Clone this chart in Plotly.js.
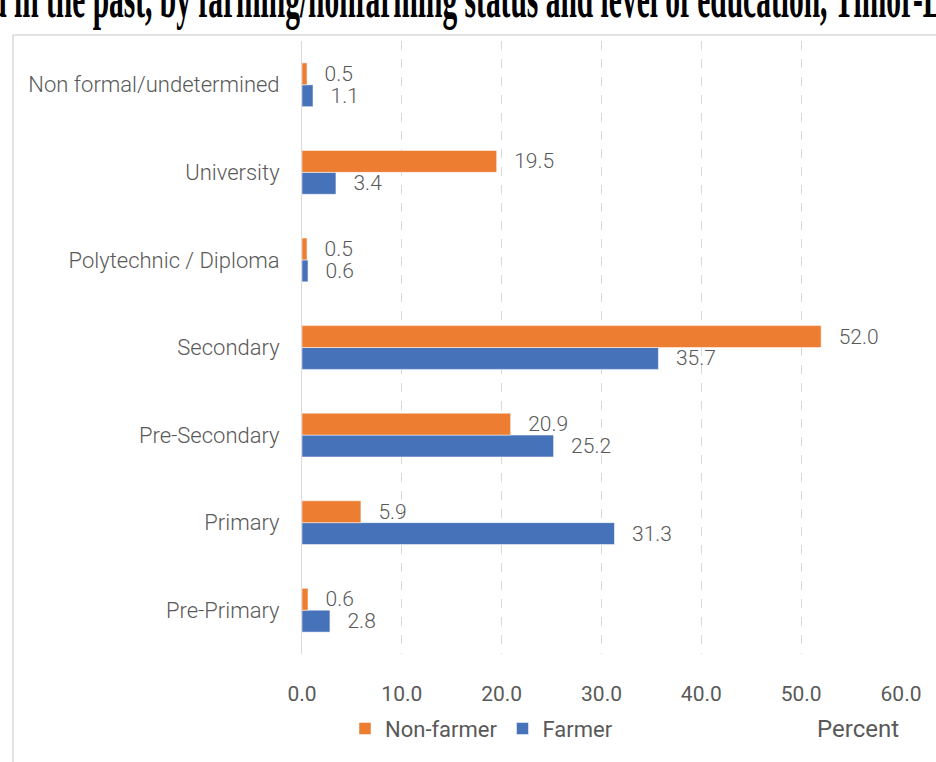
<!DOCTYPE html>
<html>
<head>
<meta charset="utf-8">
<script src="https://cdn.plot.ly/plotly-3.0.1.min.js"></script>
<style>html,body{margin:0;padding:0;background:#fff;}#chart{width:936px;height:762px;}</style>
</head>
<body>
<div id="chart"></div>
<script>
const categories = ["Pre-Primary", "Primary", "Pre-Secondary", "Secondary", "Polytechnic / Diploma", "University", "Non formal/undetermined"];
const farmer = [2.8, 31.3, 25.2, 35.7, 0.6, 3.4, 1.1];
const nonFarmer = [0.6, 5.9, 20.9, 52.0, 0.5, 19.5, 0.5];
const xTicks = [0, 10, 20, 30, 40, 50, 60];
const xTickLabels = ["0.0", "10.0", "20.0", "30.0", "40.0", "50.0", "60.0"];
const titleText = "worked in the past, by farming/nonfarming status and level of education, Timor-Leste";

const pad = "\u00a0\u00a0\u2009";
const labelFont = {family: "Roboto, 'Liberation Sans', sans-serif", size: 21, color: "#595959", weight: 300};

const traces = [
  {
    type: "bar", orientation: "h", name: "Farmer",
    y: categories, x: farmer,
    marker: {color: "#4672b9", line: {color: "#ffffff", width: 0.5}},
    text: farmer.map(v => pad + v.toFixed(1)),
    textposition: "outside", textfont: labelFont, constraintext: "none", cliponaxis: false,
    hoverinfo: "x+name"
  },
  {
    type: "bar", orientation: "h", name: "Non-farmer",
    y: categories, x: nonFarmer,
    marker: {color: "#ed7d31", line: {color: "#ffffff", width: 0.5}},
    text: nonFarmer.map(v => pad + v.toFixed(1)),
    textposition: "outside", textfont: labelFont, constraintext: "none", cliponaxis: false,
    hoverinfo: "x+name"
  }
];

const W = 936, H = 762, L = 302, R = 35, T = 41, B = 106;
const pw = W - L - R, ph = H - T - B;
const px = p => (p - L) / pw;
const py = p => (H - B - p) / ph;

const layout = {
  width: W, height: H,
  margin: {l: L, r: R, t: T, b: B, pad: 0},
  paper_bgcolor: "#ffffff", plot_bgcolor: "#ffffff",
  barmode: "group", bargap: 0.5, bargroupgap: 0,
  font: {family: "Roboto, 'Liberation Sans', sans-serif", color: "#595959"},
  xaxis: {
    range: [0, 60], tickvals: xTicks, ticktext: xTickLabels,
    showgrid: true, gridcolor: "#d9d9d9", griddash: "dash", gridwidth: 1,
    zeroline: false, showline: false,
    ticks: "outside", ticklen: 21, tickcolor: "rgba(0,0,0,0)",
    tickfont: {family: "'Liberation Sans Narrow', Roboto, sans-serif", size: 21, color: "#595959"},
    fixedrange: true
  },
  yaxis: {
    type: "category", categoryorder: "array", categoryarray: categories,
    range: [-0.5, 6.5],
    showgrid: false, zeroline: false,
    showline: true, linecolor: "#d9d9d9", linewidth: 1,
    ticks: "outside", ticklen: 17, tickcolor: "rgba(0,0,0,0)",
    tickfont: {family: "Roboto, 'Liberation Sans', sans-serif", size: 22, color: "#595959", weight: 300},
    fixedrange: true
  },
  showlegend: true,
  legend: {
    orientation: "h", traceorder: "reversed",
    x: px(345), xanchor: "left", y: py(731), yanchor: "middle",
    font: {family: "'Liberation Sans Narrow', Roboto, sans-serif", size: 22, color: "#595959"},
    itemwidth: 30, bgcolor: "rgba(0,0,0,0)"
  },
  annotations: [
    {
      text: "Percent", xref: "paper", yref: "paper",
      x: 1, xanchor: "right", y: py(731), yanchor: "middle",
      showarrow: false,
      font: {family: "'Liberation Sans Narrow', Roboto, sans-serif", size: 24, color: "#595959"}
    },
    {
      text: "<b>" + titleText + "</b>", xref: "paper", yref: "paper",
      x: px(-60), xanchor: "left", y: py(12), yanchor: "middle",
      showarrow: false,
      font: {family: "'Liberation Serif', 'Times New Roman', serif", size: 28, color: "#000000"}
    }
  ],
  shapes: [
    {type: "line", xref: "paper", yref: "paper", x0: px(13), x1: px(13), y0: py(35), y1: py(770), line: {color: "#d9d9d9", width: 1.5}},
    {type: "line", xref: "paper", yref: "paper", x0: px(13), x1: px(945), y0: py(35), y1: py(35), line: {color: "#d9d9d9", width: 1.5}}
  ]
};

function fitTitle() {
  const t = document.querySelector('g.annotation[data-index="1"] text');
  if (!t) return;
  const full = t.textContent;
  const iD = full.indexOf("d in the past");
  const iL = full.indexOf("Timor-L") + 6;
  if (iD < 0 || iL < 6) return;
  const pD = t.getStartPositionOfChar(iD);
  const pL = t.getStartPositionOfChar(iL);
  const ctm = t.getCTM();
  const sx = (923 - (-10)) / (pL.x - pD.x);
  const sy = 2.0 * sx;
  const tx = -10 - ctm.e - sx * pD.x;
  const ty = 17 - ctm.f - sy * pD.y;
  t.setAttribute("transform", "matrix(" + sx + ",0,0," + sy + "," + tx + "," + ty + ")");
}

Plotly.newPlot("chart", traces, layout, {displayModeBar: false, staticPlot: true}).then(fitTitle);
</script>
</body>
</html>
